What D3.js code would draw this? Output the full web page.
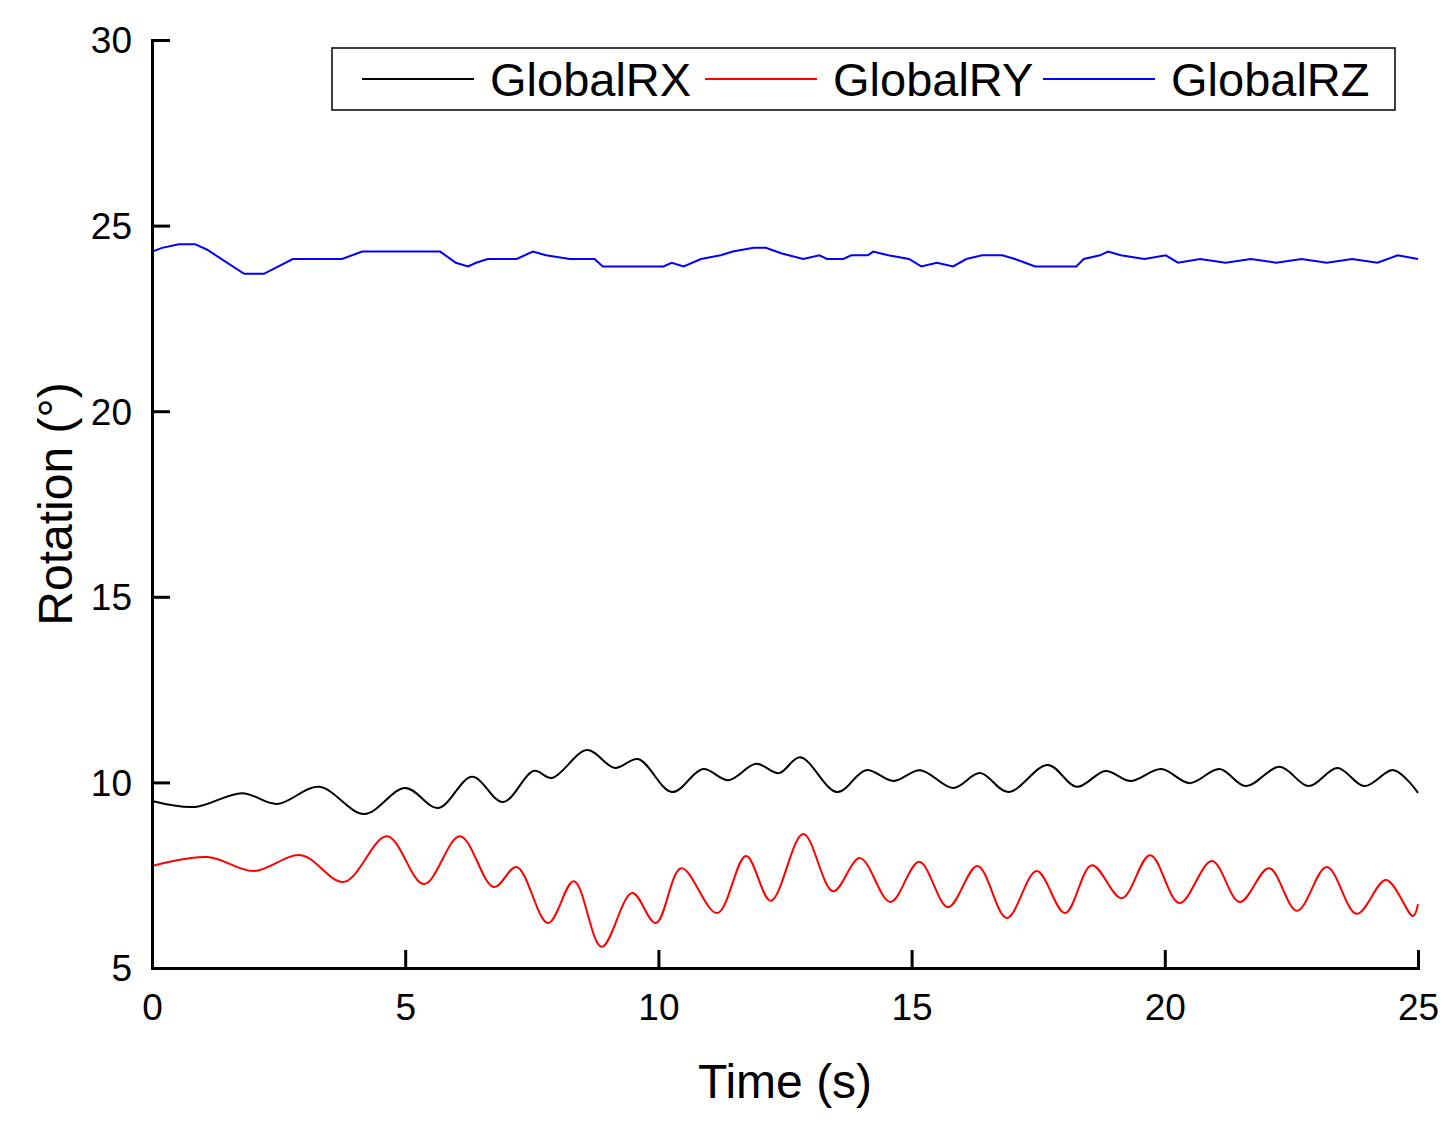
<!DOCTYPE html>
<html>
<head>
<meta charset="utf-8">
<script src="https://cdn.jsdelivr.net/npm/d3@7"></script>
<style>
  body { margin: 0; background: #fff; }
  text { font-family: "Liberation Sans", Arial, sans-serif; }
</style>
</head>
<body>
<svg width="1455" height="1124"></svg>
<script>
// Data (time in s, rotation in degrees)
const seriesNames = ["GlobalRX", "GlobalRY", "GlobalRZ"];
const seriesColors = ["#000000", "#ff0000", "#0000ff"];
const xTicks = [0, 5, 10, 15, 20, 25];
const yTicks = [5, 10, 15, 20, 25, 30];

const rxTime = [0, 0.85, 1.78, 2.47, 3.3, 4.19, 5.0, 5.65, 6.32, 6.93, 7.54, 7.9, 8.59, 9.14, 9.6, 10.27, 10.88, 11.38, 11.93, 12.38, 12.8, 13.53, 14.1, 14.64, 15.17, 15.82, 16.35, 16.91, 17.69, 18.26, 18.83, 19.32, 19.93, 20.49, 21.08, 21.6, 22.27, 22.84, 23.41, 23.94, 24.52, 25.0];
const rxValue = [9.5, 9.34, 9.71, 9.42, 9.88, 9.15, 9.85, 9.31, 10.15, 9.47, 10.31, 10.12, 10.87, 10.39, 10.63, 9.74, 10.36, 10.06, 10.5, 10.25, 10.68, 9.74, 10.33, 10.04, 10.33, 9.85, 10.25, 9.74, 10.47, 9.88, 10.31, 10.04, 10.36, 9.98, 10.36, 9.9, 10.42, 9.9, 10.39, 9.9, 10.33, 9.72];

const ryTime = [0, 1.1, 2.01, 2.94, 3.79, 4.64, 5.37, 6.08, 6.75, 7.2, 7.82, 8.33, 8.88, 9.48, 9.95, 10.45, 11.16, 11.73, 12.22, 12.86, 13.45, 13.98, 14.58, 15.15, 15.72, 16.3, 16.88, 17.47, 18.03, 18.56, 19.15, 19.71, 20.29, 20.93, 21.48, 22.06, 22.61, 23.2, 23.79, 24.37, 24.9, 25.0];
const ryValue = [7.75, 7.99, 7.61, 8.04, 7.32, 8.55, 7.26, 8.55, 7.18, 7.72, 6.21, 7.34, 5.57, 7.02, 6.21, 7.69, 6.48, 8.02, 6.81, 8.61, 7.07, 7.96, 6.78, 7.86, 6.64, 7.75, 6.35, 7.61, 6.48, 7.77, 6.88, 8.04, 6.75, 7.88, 6.78, 7.69, 6.54, 7.72, 6.46, 7.37, 6.4, 6.72];

const rzTime = [0, 0.2, 0.53, 0.85, 1.09, 1.82, 2.21, 2.78, 3.75, 4.15, 5.69, 6.0, 6.24, 6.4, 6.63, 7.2, 7.52, 7.78, 8.25, 8.74, 8.9, 10.1, 10.26, 10.5, 10.84, 11.23, 11.47, 11.88, 12.12, 12.44, 12.86, 13.18, 13.33, 13.65, 13.81, 14.14, 14.24, 14.54, 14.95, 15.19, 15.5, 15.82, 16.08, 16.39, 16.79, 17.04, 17.44, 18.25, 18.4, 18.72, 18.88, 19.13, 19.6, 20.02, 20.26, 20.7, 21.2, 21.7, 22.2, 22.7, 23.2, 23.7, 24.2, 24.6, 25.0];
const rzValue = [24.3, 24.4, 24.5, 24.5, 24.35, 23.7, 23.7, 24.1, 24.1, 24.3, 24.3, 24.0, 23.9, 24.0, 24.1, 24.1, 24.3, 24.2, 24.1, 24.1, 23.9, 23.9, 24.0, 23.9, 24.1, 24.2, 24.3, 24.4, 24.4, 24.25, 24.1, 24.2, 24.1, 24.1, 24.2, 24.2, 24.3, 24.2, 24.1, 23.9, 24.0, 23.9, 24.1, 24.2, 24.2, 24.1, 23.9, 23.9, 24.1, 24.2, 24.3, 24.2, 24.1, 24.2, 24.0, 24.1, 24.0, 24.1, 24.0, 24.1, 24.0, 24.1, 24.0, 24.2, 24.1];

const series = [
  rxTime.map((t, i) => ({ t: t, v: rxValue[i] })),
  ryTime.map((t, i) => ({ t: t, v: ryValue[i] })),
  rzTime.map((t, i) => ({ t: t, v: rzValue[i] }))
];

// Plot area
const margin = { top: 40, right: 37, bottom: 156, left: 152 };
const width = 1455 - margin.left - margin.right;
const height = 1124 - margin.top - margin.bottom;

const svg = d3.select("svg")
    .append("g")
    .attr("transform", `translate(${margin.left}, ${margin.top})`);

const x = d3.scaleLinear().domain([0, 25]).range([0, width]);
const y = d3.scaleLinear().domain([5, 30]).range([height, 0]);

// Lines
const curves = [d3.curveCatmullRom, d3.curveCatmullRom, d3.curveLinear];
series.forEach((data, i) => {
    svg.append("path")
        .datum(data)
        .attr("fill", "none")
        .attr("stroke", seriesColors[i])
        .attr("stroke-width", 2)
        .attr("d", d3.line().x(d => x(d.t)).y(d => y(d.v)).curve(curves[i]));
});

// Axes (ticks point inward)
const xAxis = svg.append("g")
    .attr("transform", `translate(0, ${height})`)
    .call(d3.axisBottom(x).tickValues(xTicks).tickSize(-18));
const yAxis = svg.append("g")
    .call(d3.axisLeft(y).tickValues(yTicks).tickSize(-18));

[xAxis, yAxis].forEach(a => {
    a.select(".domain").attr("stroke-width", 3);
    a.selectAll(".tick line").attr("stroke-width", 3);
    a.selectAll("text").style("font-size", "37px").attr("fill", "#000");
});
yAxis.selectAll("text").attr("dy", "0.35em").attr("x", -20);
xAxis.selectAll("text").attr("dy", 0).attr("y", 52);

// Axis titles
svg.append("text")
    .attr("x", width / 2)
    .attr("y", height + 130)
    .attr("text-anchor", "middle")
    .style("font-size", "48px")
    .text("Time (s)");

svg.append("text")
    .attr("transform", `translate(-97, ${height / 2}) rotate(-90)`)
    .attr("text-anchor", "middle")
    .attr("dy", "0.35em")
    .style("font-size", "48px")
    .text("Rotation (°)");

// Legend
const legend = svg.append("g").attr("transform", "translate(180, 8)");
legend.append("rect")
    .attr("width", 1063).attr("height", 62)
    .attr("fill", "#fff").attr("stroke", "#000").attr("stroke-width", 1.5);
const legendX = [30, 373, 711];
seriesNames.forEach((name, i) => {
    legend.append("line")
        .attr("x1", legendX[i]).attr("x2", legendX[i] + 112)
        .attr("y1", 31).attr("y2", 31)
        .attr("stroke", seriesColors[i]).attr("stroke-width", 2);
    legend.append("text")
        .attr("x", legendX[i] + 128).attr("y", 48)
        .style("font-size", "47px")
        .text(name);
});
</script>
</body>
</html>
